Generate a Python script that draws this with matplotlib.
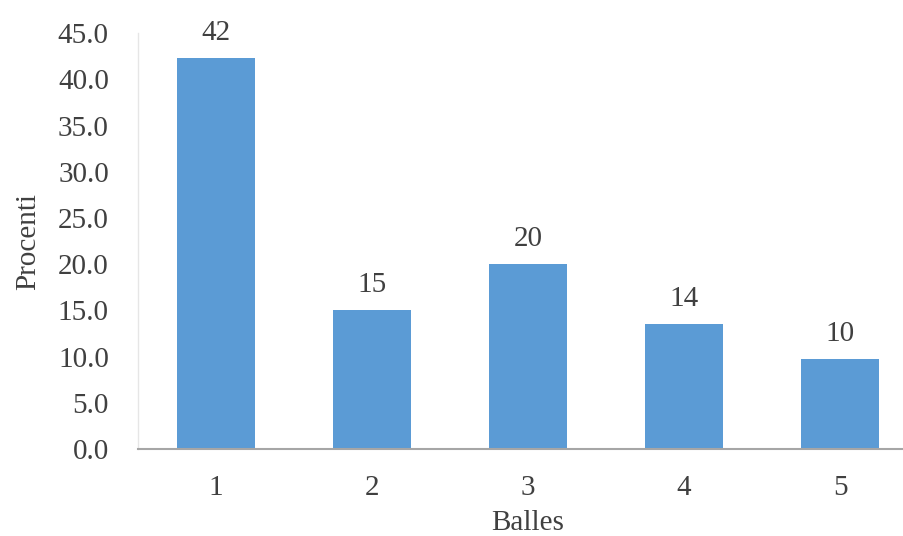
import matplotlib
matplotlib.use('Agg')
import matplotlib.pyplot as plt

# datos
balles = ['1', '2', '3', '4', '5']
procenti = [42.3, 15.0, 20.0, 13.5, 9.7]
etiquetas = ['42', '15', '20', '14', '10']
yticks = [0, 5, 10, 15, 20, 25, 30, 35, 40, 45]

plt.rcParams['font.family'] = ['Liberation Serif', 'DejaVu Serif']

fig = plt.figure(figsize=(9.04, 5.36), dpi=100)
ax = fig.add_axes([0.1527, 0.1623, 0.863, 0.776])

x = range(1, len(balles) + 1)
barras = ax.bar(x, procenti, width=0.5, color='#5B9BD5', zorder=2)
for b, lab in zip(barras, etiquetas):
    ax.annotate(lab, (b.get_x() + b.get_width() / 2, b.get_height()),
                xytext=(0, 9), textcoords='offset points',
                ha='center', va='bottom', fontsize=21, color='#404040')

ax.set_xlim(0.5, 5.5)
ax.set_ylim(0, 45)
ax.set_xticks(list(x))
ax.set_xticklabels(balles)
ax.set_yticks(yticks)
ax.set_yticklabels(['{:.1f}'.format(v) for v in yticks])
ax.tick_params(axis='both', length=0, labelsize=21, colors='#404040')
ax.tick_params(axis='x', pad=19)
ax.tick_params(axis='y', pad=21)

for s in ['top', 'right']:
    ax.spines[s].set_visible(False)
ax.spines['left'].set_color('#e6e6e6')
ax.spines['left'].set_linewidth(1.0)
ax.spines['bottom'].set_color('#a6a6a6')
ax.spines['bottom'].set_linewidth(1.5)

ax.set_xlabel('Balles', fontsize=21, color='#404040', labelpad=6)
ax.set_ylabel('Procenti', fontsize=21, color='#404040', labelpad=12)

fig.savefig('out.png', dpi=100)
